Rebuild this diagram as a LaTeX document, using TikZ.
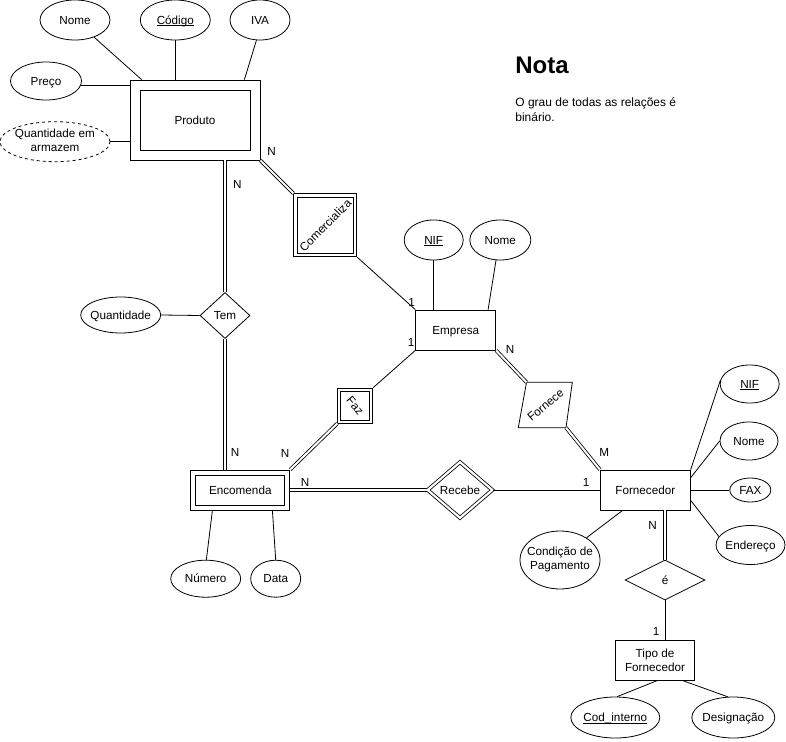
\documentclass[tikz,border=0pt]{standalone}
\usepackage{fontspec}
\setmainfont{Liberation Sans}
\usetikzlibrary{shapes.geometric,calc}
\newcommand\zt[1]{\makebox[0pt]{#1}}
\newcommand\zm[1]{\makebox[0pt]{\begin{tabular}{@{}c@{}}#1\end{tabular}}}
\newcommand\myul[1]{{\setbox0\hbox{#1}\rlap{\rule[-1.6pt]{\wd0}{0.6pt}}\box0}}
\begin{document}
\begin{tikzpicture}[x=1pt,y=-1pt,line width=0.8pt,
  every node/.style={font=\fontsize{11.7}{14}\selectfont,inner sep=0pt},
  tx/.style={text height=10pt,text depth=1.7pt},
  attr/.style 2 args={ellipse,draw,minimum width=#1,minimum height=#2},
  ent/.style 2 args={rectangle,draw,minimum width=#1,minimum height=#2,align=center},
  rel/.style 2 args={diamond,draw,minimum width=#1,minimum height=#2,tx},
  dbl/.style={double,double distance=2pt},
  sq/.style={rectangle,draw,minimum size=#1}
]
\useasboundingbox (0,0) rectangle (786,741);

% Produto
\node[ent={130}{80}] (prod) at (195,120) {};
\node[ent={110}{60},tx] (prodin) at (195,120) {Produto};
\node[attr={70}{40},tx] (nome) at (75,20) {\zt{Nome}};
\node[attr={70}{40},tx] (cod) at (175.3,20) {\zt{\myul{Código}}};
\node[attr={60}{40},tx] (iva) at (260,20) {\zt{IVA}};
\node[attr={71}{38},tx] (preco) at (46,81) {\zt{Preço}};
\node[attr={110}{40},dashed] (qa) at (55,141.7) {\zm{Quantidade em\\armazem}};
\draw (nome.-42) -- ($(prod.north west)+(12,0)$);
\draw (cod.south) -- (cod.south |- prod.north);
\draw (iva.-100) -- ($(prod.north east)+(-16,0)$);
\draw (preco.-8) -- (preco.-8 -| prod.west);
\draw (qa.east) -- (qa.east -| prod.west);

% Tem
\node[rel={50}{46}] (tem) at (225,315.5) {Tem};
\node[attr={80}{36},tx] (qty) at (120.7,315) {\zt{Quantidade}};
\draw (qty.east) -- (tem.west);

% Encomenda
\node[ent={99}{40}] (enc) at (240.3,490) {};
\node[ent={89}{30},tx] (encin) at (240.3,490) {Encomenda};
\node[attr={70}{37},tx] (num) at (205.7,578.7) {\zt{Número}};
\node[attr={50}{37},tx] (data) at (275.7,578.7) {\zt{Data}};
\draw ($(enc.south west)+(22,0)$) -- (num.88);
\draw ($(enc.south west)+(82,0)$) -- (data.north);

\draw[dbl] (tem.north) -- (tem.north |- prod.south);
\draw[dbl] (tem.south) -- (tem.south |- enc.north);

% Empresa
\node[ent={80}{40},tx] (emp) at (455.7,330) {Empresa};
\node[attr={59}{40},tx] (nif1) at (433.7,240) {\zt{\myul{NIF}}};
\node[attr={61}{40},tx] (nome1) at (500.3,240) {\zt{Nome}};
\draw (nif1.south) -- (nif1.south |- emp.north);
\draw (nome1.-102) -- ($(emp.north east)+(-8,0)$);

% Comercializa
\node[sq=63] (com) at (325.3,225.3) {};
\node[sq=56] (comin) at (325.3,225.3) {};
\node[rotate=45,tx] (comtxt) at (com.center) {Comercializa};
\draw[dbl] (prod.south east) -- (com.north west);
\draw (com.south east) -- (emp.north west);

% Faz
\node[sq=35] (faz) at (355.3,405.5) {};
\node[sq=29] (fazin) at (355.3,405.5) {};
\node[rotate=-50,tx] (faztxt) at (faz.center) {Faz};
\draw (emp.south west) -- (faz.north east);
\draw[dbl] (faz.south west) -- (enc.north east);

% Fornecedor
\node[ent={90}{40},tx] (forn) at (645.3,490) {Fornecedor};
\node[attr={59}{38},tx] (nif2) at (749.7,384) {\zt{\myul{NIF}}};
\node[attr={58}{38},tx] (nome2) at (749,441) {\zt{Nome}};
\node[attr={41}{24},tx] (fax) at (750.3,490) {\zt{FAX}};
\node[attr={69}{39},tx] (ender) at (750.5,545) {\zt{Endereço}};
\node[attr={80}{58}] (cond) at (560,560) {\zm{Condição de\\Pagamento}};
\draw (forn.north east) -- (nif2.172);
\draw ($(forn.north east)+(0,8)$) -- (nome2.west);
\draw (forn.east) -- (fax.west);
\draw ($(forn.south east)+(0,-10)$) -- (ender.165);
\draw ($(forn.south west)+(22.7,0)$) -- (cond.40);

% Fornece
\coordinate (fa) at (526.5,382.3);
\coordinate (fb) at (572.3,382.3);
\coordinate (fc) at (566,427.7);
\coordinate (fd) at (518.3,427.7);
\draw (fa) -- (fb) -- (fc) -- (fd) -- cycle;
\node[rotate=40,tx] (fornece) at (545.5,405) {Fornece};
\draw[dbl] (emp.south east) -- (fa);
\draw[dbl] (fc) -- (forn.north west);

% Recebe
\node[rel={65}{56},double,double distance=2.2pt] (rec) at (460,490) {Recebe};
\draw[dbl] (enc.east) -- (rec.west);
\draw (rec.east) -- (forn.west);

% e / Tipo de Fornecedor
\node[rel={80}{40}] (e) at (665,580) {é};
\node[ent={79}{40}] (tipo) at (655,660.3) {Tipo de\\Fornecedor};
\node[attr={89}{41},tx] (codi) at (615.3,717.5) {\zt{\myul{Cod\_interno}}};
\node[attr={83}{41},tx] (desig) at (733.3,717.5) {\zt{Designação}};
\draw[dbl] (e.north) -- (e.north |- forn.south);
\draw (e.south) -- (e.south |- tipo.north);
\draw ($(tipo.south)+(2,0)$) -- (codi.85);
\draw ($(tipo.south)+(28,0)$) -- (desig.105);

% cardinalities
\begin{scope}[every node/.append style={tx}]
\node (c1) at (271.7,151.7) {N};
\node (c2) at (237.3,184) {N};
\node (c3) at (411.7,302.7) {1};
\node (c4) at (411,342.7) {1};
\node (c5) at (510,349) {N};
\node (c6) at (235,452.7) {N};
\node (c7) at (285,453.3) {N};
\node (c8) at (305,482) {N};
\node (c9) at (586,482.7) {1};
\node (c10) at (604.3,452.7) {M};
\node (c11) at (652.7,525.7) {N};
\node (c12) at (656,631.7) {1};
\end{scope}

% Nota
\node[anchor=base west,font=\bfseries\fontsize{24}{28}\selectfont] (nota) at (515,73.5) {Nota};
\node[anchor=west,align=left,font=\fontsize{12}{15}\selectfont] (notatxt) at (515,109.3) {O grau de todas as relações é\\binário.};
\end{tikzpicture}
\end{document}
